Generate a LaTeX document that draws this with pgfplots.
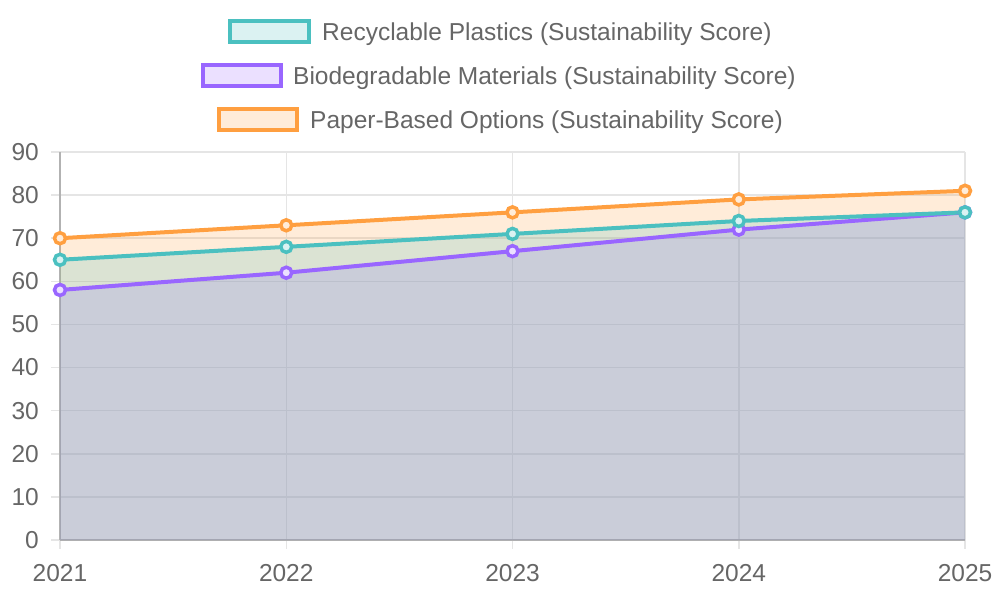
\documentclass[border=0pt]{standalone}
\usepackage{pgfplots}
\pgfplotsset{compat=1.18}
\usepackage{fontspec}
\setmainfont{Liberation Sans}

\definecolor{cteal}{RGB}{75,192,192}
\definecolor{cpurple}{RGB}{153,102,255}
\definecolor{corange}{RGB}{255,159,64}
\definecolor{txt}{RGB}{102,102,102}

\newcommand{\chartfont}{\fontsize{24.5}{28}\selectfont}

\begin{document}
\begin{tikzpicture}
\path[use as bounding box] (0pt,0pt) rectangle (1000pt,600pt);

% legend, one centred row per series
\draw[cteal, line width=4pt, fill=cteal!20!white] (229.5pt,557.5pt) rectangle (308.5pt,578.5pt);
\node[anchor=base west, inner sep=0pt, text=txt, font=\chartfont] at (322pt,559.5pt) {Recyclable Plastics (Sustainability Score)};
\draw[cpurple, line width=4pt, fill=cpurple!20!white] (202.5pt,513.5pt) rectangle (280.5pt,534.5pt);
\node[anchor=base west, inner sep=0pt, text=txt, font=\chartfont] at (293pt,515.5pt) {Biodegradable Materials (Sustainability Score)};
\draw[corange, line width=4pt, fill=corange!20!white] (218.5pt,469.5pt) rectangle (296.5pt,490.5pt);
\node[anchor=base west, inner sep=0pt, text=txt, font=\chartfont] at (310pt,471.5pt) {Paper-Based Options (Sustainability Score)};

\begin{axis}[
    at={(60pt,60pt)}, anchor=south west,
    scale only axis,
    width=905pt, height=388pt,
    xmin=2021, xmax=2025,
    ymin=0, ymax=90,
    xtick={2021,2022,2023,2024,2025},
    ytick={0,10,...,90},
    grid=major,
    grid style={black!10, line width=1.5pt},
    axis x line=bottom, axis y line=left,
    axis line style={black!30, line width=1.5pt, -},
    tick align=outside,
    major tick length=9pt,
    tick style={black!10, line width=1.5pt},
    /pgf/number format/assume math mode=true,
    /pgf/number format/1000 sep={},
    tick label style={font=\chartfont, text=txt, inner sep=0pt},
    yticklabel style={xshift=-12pt},
    xticklabel style={yshift=-15pt},
    clip=false,
]
% areas, each filled down to zero
\addplot[draw=none, fill=corange, fill opacity=0.2, forget plot]
    coordinates {(2021,70) (2022,73) (2023,76) (2024,79) (2025,81)} \closedcycle;
\addplot[draw=none, fill=cpurple, fill opacity=0.2, forget plot]
    coordinates {(2021,58) (2022,62) (2023,67) (2024,72) (2025,76)} \closedcycle;
\addplot[draw=none, fill=cteal, fill opacity=0.2, forget plot]
    coordinates {(2021,65) (2022,68) (2023,71) (2024,74) (2025,76)} \closedcycle;

% lines
\addplot[corange, line width=4pt, mark=*, mark size=5.5pt,
    mark options={fill=corange!20!white, line width=3.5pt}]
    coordinates {(2021,70) (2022,73) (2023,76) (2024,79) (2025,81)};
\addplot[cpurple, line width=4pt, mark=*, mark size=5.5pt,
    mark options={fill=cpurple!20!white, line width=3.5pt}]
    coordinates {(2021,58) (2022,62) (2023,67) (2024,72) (2025,76)};
\addplot[cteal, line width=4pt, mark=*, mark size=5.5pt,
    mark options={fill=cteal!20!white, line width=3.5pt}]
    coordinates {(2021,65) (2022,68) (2023,71) (2024,74) (2025,76)};
\end{axis}
\end{tikzpicture}
\end{document}
